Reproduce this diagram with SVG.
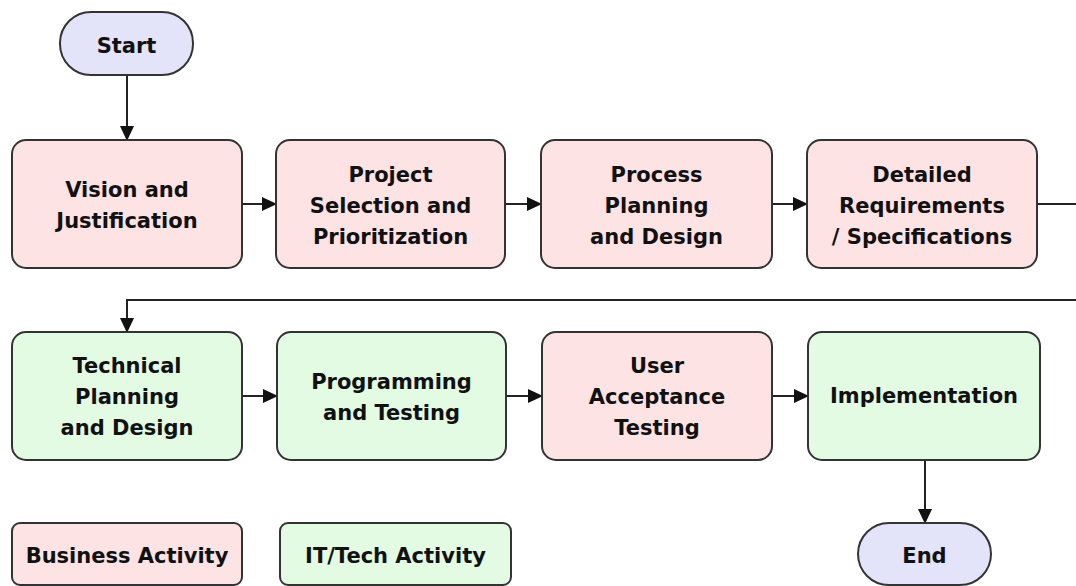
<svg xmlns="http://www.w3.org/2000/svg" width="1076" height="586" viewBox="0 0 1076 586">
<style>
.b{fill:#fde3e3;stroke:#333;stroke-width:2}
.g{fill:#e3fbe3;stroke:#333;stroke-width:2}
.t{fill:#e3e3fa;stroke:#333;stroke-width:2}
text{font-family:"DejaVu Sans",Verdana,sans-serif;font-weight:bold;font-size:21px;fill:#111;text-anchor:middle}
.c{fill:none;stroke:#222;stroke-width:2}
</style>
<defs>
<marker id="ah" markerWidth="15" markerHeight="14" refX="14" refY="7" orient="auto" markerUnits="userSpaceOnUse">
<path d="M0,0 L15,7 L0,14 Z" fill="#111"/>
</marker>
</defs>
<rect width="1076" height="586" fill="#fff"/>
<g id="connectors">
<path class="c" d="M127,75 V140" marker-end="url(#ah)"/>
<path class="c" d="M242,204 H276" marker-end="url(#ah)"/>
<path class="c" d="M505,204 H541" marker-end="url(#ah)"/>
<path class="c" d="M772,204 H807" marker-end="url(#ah)"/>
<path class="c" d="M1037,204 H1080 V300 H127 V332" marker-end="url(#ah)"/>
<path class="c" d="M242,396 H277" marker-end="url(#ah)"/>
<path class="c" d="M506,396 H542" marker-end="url(#ah)"/>
<path class="c" d="M772,396 H808" marker-end="url(#ah)"/>
<path class="c" d="M925,460 V523" marker-end="url(#ah)"/>
</g>
<g id="start"><rect class="t" x="60" y="12" width="133" height="63" rx="31"/><text x="126.5" y="53">Start</text></g>
<g id="vision"><rect class="b" x="12" y="140" width="230" height="128" rx="14"/><text x="127" y="197">Vision and</text><text x="127" y="228">Justification</text></g>
<g id="selection"><rect class="b" x="276" y="140" width="229" height="128" rx="14"/><text x="390.5" y="182">Project</text><text x="390.5" y="213">Selection and</text><text x="390.5" y="244">Prioritization</text></g>
<g id="process"><rect class="b" x="541" y="140" width="231" height="128" rx="14"/><text x="656.5" y="182">Process</text><text x="656.5" y="213">Planning</text><text x="656.5" y="244">and Design</text></g>
<g id="requirements"><rect class="b" x="807" y="140" width="230" height="128" rx="14"/><text x="922" y="182">Detailed</text><text x="922" y="213">Requirements</text><text x="922" y="244">/ Specifications</text></g>
<g id="technical"><rect class="g" x="12" y="332" width="230" height="128" rx="14"/><text x="127" y="373">Technical</text><text x="127" y="404">Planning</text><text x="127" y="435">and Design</text></g>
<g id="programming"><rect class="g" x="277" y="332" width="229" height="128" rx="14"/><text x="391.5" y="389">Programming</text><text x="391.5" y="420">and Testing</text></g>
<g id="uat"><rect class="b" x="542" y="332" width="230" height="128" rx="14"/><text x="657" y="373">User</text><text x="657" y="404">Acceptance</text><text x="657" y="435">Testing</text></g>
<g id="implementation"><rect class="g" x="808" y="332" width="232" height="128" rx="14"/><text x="924" y="403">Implementation</text></g>
<g id="end"><rect class="t" x="858" y="523" width="133" height="62" rx="31"/><text x="924.5" y="563">End</text></g>
<g id="legend-business"><rect class="b" x="12" y="523" width="230" height="62" rx="8"/><text x="127" y="563">Business Activity</text></g>
<g id="legend-it"><rect class="g" x="280" y="523" width="231" height="62" rx="8"/><text x="395.5" y="563">IT/Tech Activity</text></g>
</svg>
